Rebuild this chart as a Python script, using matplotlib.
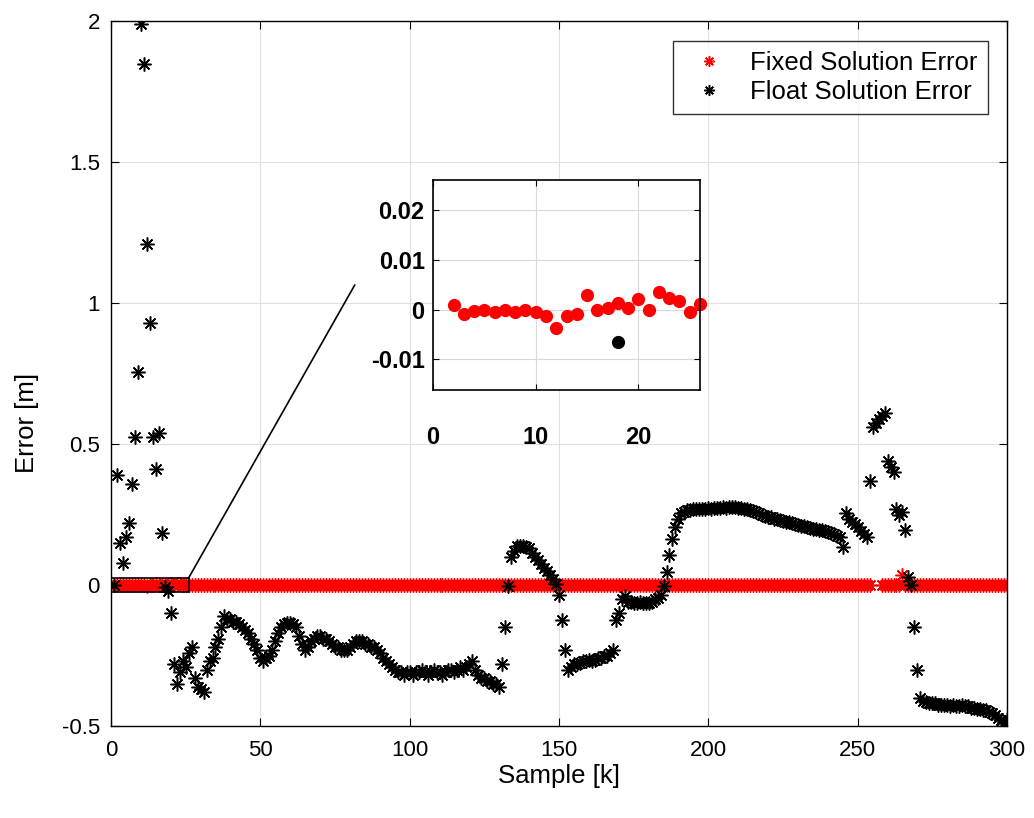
import numpy as np
import matplotlib.pyplot as plt
from matplotlib.patches import Rectangle

plt.rcParams['font.family'] = ['Liberation Sans', 'DejaVu Sans']

# sample index
samples = list(range(1, 301))

# float solution error [m], 10 samples per row
float_err = [
    0.0, 0.39, 0.15, 0.077, 0.17, 0.22, 0.36, 0.525, 0.755, 1.99,
    1.85, 1.21, 0.93, 0.525, 0.41, 0.54, 0.185, -0.0066, -0.02, -0.10,
    -0.28, -0.35, -0.31, -0.27, -0.29, -0.24, -0.22, -0.33, -0.36, -0.37,
    -0.38, -0.30, -0.27, -0.26, -0.22, -0.19, -0.15, -0.11, -0.12, -0.12,
    -0.13, -0.13, -0.14, -0.15, -0.16, -0.17, -0.19, -0.21, -0.23, -0.26,
    -0.27, -0.26, -0.25, -0.23, -0.20, -0.17, -0.15, -0.14, -0.135, -0.135,
    -0.14, -0.15, -0.18, -0.21, -0.23, -0.22, -0.20, -0.19, -0.18, -0.18,
    -0.19, -0.19, -0.20, -0.21, -0.22, -0.22, -0.23, -0.23, -0.23, -0.22,
    -0.21, -0.20, -0.20, -0.20, -0.21, -0.21, -0.22, -0.22, -0.23, -0.24,
    -0.26, -0.27, -0.28, -0.29, -0.30, -0.31, -0.31, -0.32, -0.31, -0.31,
    -0.32, -0.31, -0.31, -0.30, -0.31, -0.32, -0.31, -0.30, -0.31, -0.31,
    -0.32, -0.31, -0.30, -0.30, -0.31, -0.30, -0.29, -0.30, -0.29, -0.28,
    -0.27, -0.30, -0.32, -0.33, -0.33, -0.34, -0.34, -0.35, -0.35, -0.36,
    -0.28, -0.15, -0.005, 0.10, 0.12, 0.14, 0.14, 0.14, 0.135, 0.13,
    0.115, 0.10, 0.09, 0.075, 0.06, 0.05, 0.035, 0.02, 0.005, -0.035,
    -0.125, -0.23, -0.30, -0.29, -0.28, -0.28, -0.275, -0.27, -0.27, -0.265,
    -0.27, -0.265, -0.26, -0.26, -0.25, -0.25, -0.24, -0.23, -0.125, -0.10,
    -0.05, -0.04, -0.06, -0.06, -0.065, -0.065, -0.06, -0.065, -0.065, -0.065,
    -0.06, -0.05, -0.045, -0.035, -0.005, 0.045, 0.105, 0.165, 0.205, 0.235,
    0.255, 0.26, 0.265, 0.265, 0.27, 0.27, 0.27, 0.27, 0.27, 0.272,
    0.27, 0.273, 0.275, 0.274, 0.276, 0.275, 0.277, 0.277, 0.276, 0.275,
    0.272, 0.27, 0.268, 0.265, 0.262, 0.258, 0.255, 0.25, 0.246, 0.243,
    0.24, 0.236, 0.233, 0.23, 0.227, 0.225, 0.222, 0.22, 0.217, 0.214,
    0.211, 0.208, 0.205, 0.203, 0.20, 0.198, 0.196, 0.194, 0.19, 0.188,
    0.186, 0.18, 0.175, 0.17, 0.135, 0.255, 0.235, 0.225, 0.215, 0.205,
    0.19, 0.18, 0.17, 0.37, 0.56, 0.575, 0.59, 0.60, 0.61, 0.44,
    0.42, 0.40, 0.27, 0.25, 0.26, 0.195, 0.03, 0.0, -0.15, -0.30,
    -0.40, -0.41, -0.415, -0.42, -0.42, -0.42, -0.425, -0.425, -0.425, -0.425,
    -0.43, -0.425, -0.43, -0.43, -0.425, -0.43, -0.43, -0.435, -0.435, -0.44,
    -0.44, -0.445, -0.445, -0.45, -0.455, -0.46, -0.47, -0.48, -0.49, -0.475,
]

# fixed solution error for the first samples (shown in the inset)
inset_k = list(range(2, 27))
inset_fixed = [
    0.0009, -0.0008, -0.0003, -0.0001, -0.0005, -0.0001, -0.0005, 0.0, -0.0005, -0.0013,
    -0.0038, -0.0013, -0.0008, 0.0029, 0.0, 0.0004, 0.0013, 0.0004, 0.0022, 0.0,
    0.0036, 0.0024, 0.0018, -0.0005, 0.0012,
]
inset_float_k = [18]
inset_float = [-0.0066]

# fixed solution error over the whole run (nan = no fixed solution)
fixed_err = [np.nan] + inset_fixed + [0.0] * 228 + [np.nan] * 3 + \
    [0.0] * 7 + [0.035] + [0.0] * 35

fig = plt.figure(figsize=(10.34, 8.18), dpi=100)
ax = fig.add_axes([0.1073, 0.1125, 0.8666, 0.8615])

star = (8, 2, 0)
ax.plot(samples, fixed_err, ls='none', marker=star, ms=10, mew=1.1,
        color='red', label='Fixed Solution Error')
ax.plot(samples, float_err, ls='none', marker=star, ms=10, mew=1.1,
        color='black', label='Float Solution Error')

ax.set_xlim(0, 300)
ax.set_ylim(-0.5, 2)
ax.set_xticks([0, 50, 100, 150, 200, 250, 300])
ax.set_yticks([-0.5, 0, 0.5, 1, 1.5, 2])
ax.set_yticklabels(['-0.5', '0', '0.5', '1', '1.5', '2'])
ax.grid(True, color='#e0e0e0', lw=0.8)
ax.tick_params(direction='in', top=True, right=True, labelsize=16, length=6)
ax.tick_params(axis='x', pad=10)
ax.tick_params(axis='y', pad=8)
for s in ax.spines.values():
    s.set_linewidth(1.0)
ax.set_xlabel('Sample [k]', fontsize=18.5)
ax.set_ylabel('Error [m]', fontsize=18.5)
ax.xaxis.set_label_coords(0.5, -0.054)
ax.yaxis.set_label_coords(-0.08, 0.43)
ax.legend(loc='upper right', fontsize=18.5, frameon=True, fancybox=False,
          edgecolor='black', borderaxespad=0.75, handletextpad=0.6,
          handlelength=2.0, borderpad=0.4, labelspacing=0.2, markerscale=0.75)

# zoom box and connector
ax.add_patch(Rectangle((0, -0.025), 26, 0.05, fill=False, ec='black', lw=1.2, zorder=5))
ax.plot([26, 81.6], [0.025, 1.064], color='black', lw=1.2, zorder=5)

ins = fig.add_axes([0.4188, 0.5232, 0.2582, 0.2567])
ins.plot(inset_k, inset_fixed, ls='none', marker='o', ms=8.5, color='red', clip_on=False)
ins.plot(inset_float_k, inset_float, ls='none', marker='o', ms=8.5, color='black')
ins.set_xlim(0, 26)
ins.set_ylim(-0.0162, 0.0261)
ins.set_xticks([0, 10, 20])
ins.set_yticks([-0.01, 0, 0.01, 0.02])
ins.set_yticklabels(['-0.01', '0', '0.01', '0.02'])
ins.grid(True, color='#d9d9d9', lw=0.8)
ins.tick_params(direction='in', top=True, right=True, labelsize=17, length=4)
ins.tick_params(axis='x', pad=26)
ins.tick_params(axis='y', pad=6)
for lab in ins.get_xticklabels() + ins.get_yticklabels():
    lab.set_fontweight('bold')
for s in ins.spines.values():
    s.set_linewidth(1.2)

fig.savefig('out.png', dpi=100)
